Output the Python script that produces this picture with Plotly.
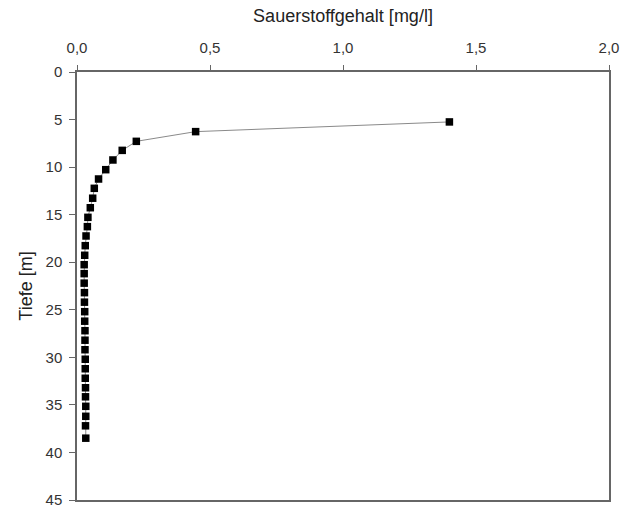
import plotly.graph_objects as go

depth_m = [5.25, 6.27, 7.29, 8.24, 9.25, 10.27, 11.25, 12.23, 13.27, 14.27, 15.28, 16.26,
           17.24, 18.26, 19.27, 20.26, 21.2, 22.2, 23.2, 24.2, 25.2, 26.2, 27.2, 28.2,
           29.2, 30.2, 31.2, 32.2, 33.2, 34.15, 35.15, 36.2, 37.2, 38.5]
oxygen_mg_l = [1.40, 0.446, 0.223, 0.170, 0.135, 0.108, 0.081, 0.065, 0.059, 0.050, 0.041,
               0.039, 0.034, 0.031, 0.029, 0.027, 0.027, 0.027, 0.028, 0.028, 0.029, 0.029,
               0.030, 0.030, 0.030, 0.031, 0.031, 0.031, 0.032, 0.032, 0.033, 0.033, 0.032, 0.033]
x_ticks = [0.0, 0.5, 1.0, 1.5, 2.0]
y_ticks = [0, 5, 10, 15, 20, 25, 30, 35, 40, 45]

fig = go.Figure(go.Scatter(
    x=oxygen_mg_l, y=depth_m, mode="lines+markers",
    line=dict(color="#8a8a8a", width=1),
    marker=dict(symbol="square", size=7.5, color="black"),
))

axis_font = dict(family="Liberation Sans, Arial, sans-serif", size=15, color="#333333")
fig.update_layout(
    width=623, height=510,
    margin=dict(l=77, r=14, t=72, b=10),
    paper_bgcolor="white", plot_bgcolor="white",
    separators=",.",
    showlegend=False,
    font=axis_font,
    xaxis=dict(
        side="top", range=[0, 2], tickvals=x_ticks, tickformat=".1f", automargin=False,
        showgrid=False, zeroline=False,
        showline=True, linecolor="#666666", linewidth=1.5, mirror=True,
        ticks="outside", ticklen=5, tickcolor="#666666", tickwidth=1, ticklabelstandoff=6,
        title=dict(text="Sauerstoffgehalt [mg/l]", font=dict(size=18, color="#222222"), standoff=12),
    ),
    yaxis=dict(
        range=[45, 0], tickvals=y_ticks, automargin=False,
        showgrid=False, zeroline=False,
        showline=True, linecolor="#666666", linewidth=1.5, mirror=True,
        ticks="outside", ticklen=6, tickcolor="#666666", tickwidth=1, ticklabelstandoff=4,
        title=dict(text="Tiefe [m]", font=dict(size=18, color="#222222"), standoff=8),
    ),
)

fig.write_html("out.html", config={"displayModeBar": False},
               post_script="document.body.style.margin='0';document.body.style.overflow='hidden';")
